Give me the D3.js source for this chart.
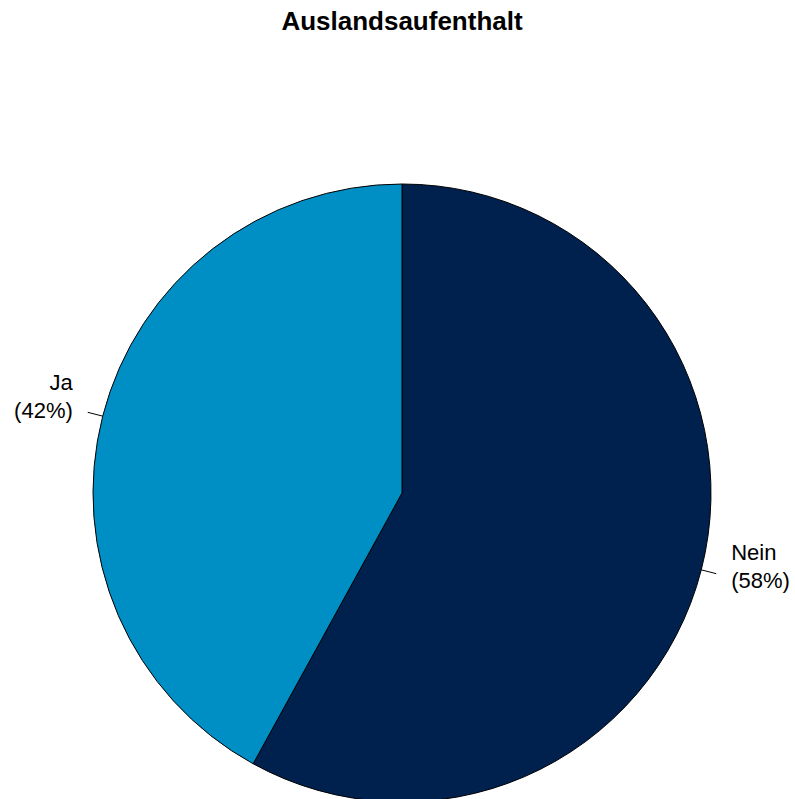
<!DOCTYPE html>
<html>
<head>
<meta charset="utf-8">
<script src="https://cdn.jsdelivr.net/npm/d3@7/dist/d3.min.js"></script>
<style>
  html, body { margin: 0; padding: 0; background: #fff; }
  svg { display: block; font-family: "Liberation Sans", Arial, Helvetica, sans-serif; }
</style>
</head>
<body>
<script>
// Survey answers: stay abroad (Auslandsaufenthalt)
const categories = ["Nein", "Ja"];
const values = [58, 42];
const colors = ["#00214D", "#008FC5"];
const title = "Auslandsaufenthalt";

const W = 795, H = 799;
const cx = 402, cy = 493, R = 309;

const svg = d3.select("body").append("svg")
  .attr("width", W).attr("height", H);

svg.append("text")
  .attr("x", 402).attr("y", 30)
  .attr("text-anchor", "middle")
  .attr("font-weight", "bold")
  .attr("font-size", 26)
  .attr("fill", "#000")
  .text(title);

const data = categories.map((c, i) => ({ cat: c, value: values[i], color: colors[i] }));

const pie = d3.pie().value(d => d.value).sort(null);
const arcs = pie(data);
const arc = d3.arc().innerRadius(0).outerRadius(R);

const g = svg.append("g").attr("transform", `translate(${cx},${cy})`);

g.selectAll("path.slice")
  .data(arcs)
  .join("path")
  .attr("class", "slice")
  .attr("d", arc)
  .attr("fill", d => d.data.color)
  .attr("stroke", "#000")
  .attr("stroke-width", 1);

// leader ticks and two-line labels
arcs.forEach(a => {
  const mid = (a.startAngle + a.endAngle) / 2;
  const sx = Math.sin(mid), sy = -Math.cos(mid);
  g.append("line")
    .attr("x1", R * sx).attr("y1", R * sy)
    .attr("x2", 1.05 * R * sx).attr("y2", 1.05 * R * sy)
    .attr("stroke", "#000").attr("stroke-width", 1);
  const lx = 1.1 * R * sx, ly = 1.1 * R * sy;
  const right = sx > 0;
  const t = g.append("text")
    .attr("text-anchor", right ? "start" : "end")
    .attr("font-size", 22)
    .attr("fill", "#000");
  const pct = Math.round(100 * a.data.value / d3.sum(values));
  t.append("tspan").attr("x", lx).attr("y", ly - 18).text(a.data.cat);
  t.append("tspan").attr("x", lx).attr("y", ly + 10).text(`(${pct}%)`);
});
</script>
</body>
</html>
